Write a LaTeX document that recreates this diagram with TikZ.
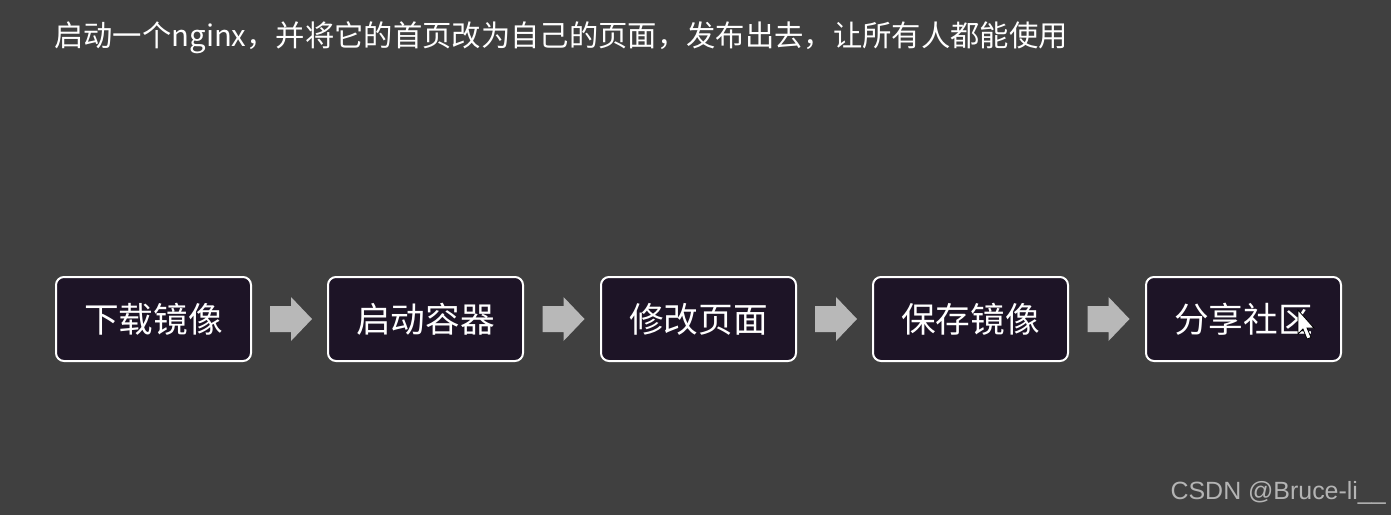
\documentclass[tikz,border=0pt]{standalone}
\usepackage{fontspec}
\newfontfamily\cjk{Noto Sans CJK SC}
\newfontfamily\wm{Liberation Sans}
\usetikzlibrary{calc}
\definecolor{bg}{HTML}{404040}
\definecolor{boxfill}{HTML}{1D1426}
\definecolor{arrowc}{HTML}{B8B8B8}
\definecolor{wmc}{HTML}{B4B4B4}
\tikzset{
  stepbox/.style={draw=white, line width=1.5pt, fill=boxfill, rounded corners=6pt,
    minimum width=146.25pt, minimum height=63pt, inner sep=0pt,
    text=white, font=\cjk\fontsize{26}{30}\selectfont},
  blockarrow/.style={fill=arrowc, draw=none}
}
\begin{document}
\begin{tikzpicture}[x=0.75pt,y=-0.75pt]
\fill[bg] (0,0) rectangle (1391,515);
\useasboundingbox (0,0) rectangle (1391,515);
\node[anchor=base west, text=white, inner sep=0pt, font=\cjk\fontsize{22}{26}\selectfont] (title) at (54,46) {启动一个nginx，并将它的首页改为自己的页面，发布出去，让所有人都能使用};
\node[stepbox] (b1) at (153.5,319) {下载镜像};
\node[stepbox] (b2) at (425.5,319) {启动容器};
\node[stepbox] (b3) at (698.5,319) {修改页面};
\node[stepbox] (b4) at (970.5,319) {保存镜像};
\node[stepbox] (b5) at (1243.5,319) {分享社区};
\foreach \a/\b in {b1/b2,b2/b3,b3/b4,b4/b5}{
  \coordinate (m\a) at ($(\a.east)!0.5!(\b.west)+(1.5,0)$);
  \fill[blockarrow] (m\a) ++(-21,-13) -- ++(21,0) -- ++(0,-9) -- ++(21,22) -- ++(-21,22) -- ++(0,-9) -- ++(-21,0) -- cycle;
}
\filldraw[fill=white, draw=black, line width=0.6pt] (1298,310) -- (1298,334) -- (1303,329) -- (1307,339) -- (1311,337.5) -- (1307,328) -- (1314,328) -- cycle;
\node[anchor=base east, text=wmc, inner sep=0pt, font=\wm\fontsize{18.7}{22}\selectfont] (wm) at (1386,499) {CSDN @Bruce-li\_\_};
\end{tikzpicture}
\end{document}
